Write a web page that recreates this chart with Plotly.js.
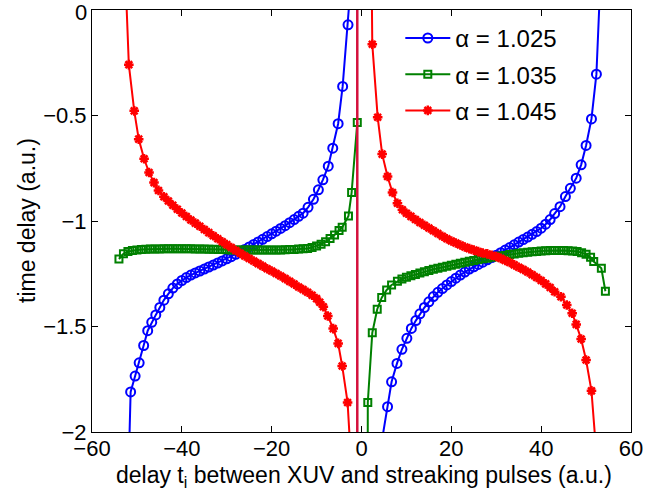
<!DOCTYPE html>
<html>
<head>
<meta charset="utf-8">
<script src="https://cdn.plot.ly/plotly-3.0.1.min.js"></script>
<style>html,body{margin:0;padding:0;background:#fff;}#chart{width:645px;height:494px;}</style>
</head>
<body>
<div id="chart"></div>
<script>
// ---- data ----
const seriesNames = ['α = 1.025', 'α = 1.035', 'α = 1.045'];

// alpha = 1.025 (blue, circles)
const delayA1025Left = [-52.0,-51.4,-50.4,-49.5,-48.5,-47.6,-46.7,-45.8,-44.9,-44,-43,-42,-41,-40,-39,-38,-37,-36,-35,-34,-33,-32,-31,-30,-29,-28,-27,-26,-25,-24,-23,-22,-21,-20,-19,-18,-17,-16,-15,-14,-13,-11.9,-10.7,-9.6,-8.6,-7.4,-6.4,-5.2,-4.2,-3.0,-2.4];
const timeA1025Left = [-2.3,-1.81,-1.735,-1.672,-1.59,-1.52,-1.48,-1.445,-1.41,-1.375,-1.345,-1.318,-1.298,-1.282,-1.268,-1.256,-1.246,-1.237,-1.228,-1.218,-1.209,-1.199,-1.189,-1.179,-1.169,-1.158,-1.147,-1.135,-1.123,-1.111,-1.099,-1.087,-1.074,-1.061,-1.048,-1.035,-1.022,-1.008,-0.993,-0.978,-0.963,-0.935,-0.897,-0.852,-0.805,-0.74,-0.655,-0.539,-0.362,-0.07,0.12];
const delayA1025Right = [4.4,5.8,6.7,7.9,9.0,10.1,11.1,12.1,13,14,15,16,17,18,19,20,21,22,23,24,25,26,27,28,29,30,31,32,33,34,35,36,37,38,39,40,41,42,43,44.2,45.4,46.5,47.8,48.9,50.0,51.2,52.3,53.0];
const timeA1025Right = [-2.06,-1.88,-1.762,-1.675,-1.608,-1.556,-1.509,-1.472,-1.44,-1.41,-1.383,-1.358,-1.338,-1.32,-1.303,-1.287,-1.271,-1.256,-1.242,-1.228,-1.217,-1.206,-1.195,-1.184,-1.173,-1.162,-1.15,-1.138,-1.126,-1.113,-1.1,-1.088,-1.076,-1.063,-1.05,-1.034,-1.015,-0.993,-0.965,-0.932,-0.884,-0.845,-0.797,-0.734,-0.642,-0.516,-0.304,0.05];

// alpha = 1.035 (green, squares)
const delayA1035Left = [-54,-53,-52,-51,-50,-49,-48,-47,-46,-45,-44,-43,-42,-41,-40,-39,-38,-37,-36,-35,-34,-33,-32,-31,-30,-29,-28,-27,-26,-25,-24,-23,-22,-21,-20,-19,-18,-17,-16,-15,-14,-13,-12,-11,-10,-9,-8,-7,-6,-5,-4.3,-2.9,-2.2,-0.94];
const timeA1035Left = [-1.18,-1.155,-1.145,-1.14,-1.137,-1.135,-1.134,-1.133,-1.133,-1.133,-1.132,-1.132,-1.132,-1.132,-1.132,-1.132,-1.132,-1.133,-1.133,-1.133,-1.134,-1.134,-1.135,-1.135,-1.136,-1.137,-1.137,-1.138,-1.138,-1.138,-1.138,-1.138,-1.138,-1.138,-1.138,-1.137,-1.137,-1.136,-1.135,-1.135,-1.133,-1.132,-1.13,-1.125,-1.118,-1.11,-1.098,-1.083,-1.066,-1.045,-1.03,-0.976,-0.865,-0.533];
const delayA1035Right = [1.35,1.4,2.4,3.5,4.5,5.6,6.7,8,9,10,11,12,13,14,15,16,17,18,19,20,21,22,23,24,25,26,27,28,29,30,31,32,33,34,35,36,37,38,39,40,41,42,43,44,45,46,47,48,49,50,51,51.7,53.4,54.3];
const timeA1035Right = [-3.0,-1.86,-1.53,-1.418,-1.363,-1.327,-1.303,-1.285,-1.275,-1.267,-1.26,-1.253,-1.247,-1.241,-1.235,-1.229,-1.224,-1.219,-1.214,-1.21,-1.205,-1.2,-1.196,-1.191,-1.187,-1.183,-1.179,-1.176,-1.172,-1.169,-1.166,-1.163,-1.159,-1.156,-1.153,-1.151,-1.148,-1.146,-1.144,-1.142,-1.141,-1.14,-1.14,-1.14,-1.14,-1.141,-1.142,-1.145,-1.15,-1.158,-1.172,-1.192,-1.224,-1.333];

// alpha = 1.045 (red, asterisks)
const delayA1045Left = [-53,-51.8,-50.6,-49.6,-48.4,-47.3,-46.2,-45.2,-44,-43,-42,-41,-40,-39,-38,-37,-36,-35,-34,-33,-32,-31,-30,-29,-28,-27,-26,-25,-24,-23,-22,-21,-20,-19,-18,-17,-16,-15,-14,-13,-12,-11,-10,-9.3,-8.5,-7.5,-6.3,-5.2,-4.3,-3.1,-2.3];
const timeA1045Left = [0.4,-0.259,-0.478,-0.612,-0.705,-0.77,-0.818,-0.855,-0.885,-0.905,-0.925,-0.944,-0.962,-0.979,-0.995,-1.01,-1.025,-1.04,-1.055,-1.07,-1.084,-1.098,-1.112,-1.126,-1.14,-1.153,-1.166,-1.178,-1.19,-1.202,-1.214,-1.226,-1.237,-1.249,-1.261,-1.273,-1.286,-1.299,-1.313,-1.325,-1.338,-1.352,-1.368,-1.385,-1.406,-1.45,-1.51,-1.58,-1.687,-1.86,-2.15];
const delayA1045Right = [1.8,2.4,3.6,4.6,5.8,6.9,8.0,9.1,10,11,12,13,14,15,16,17,18,19,20,21,22,23,24,25,26,27,28,29,30,31,32,33,34,35,36,37,38,39,40,41,42,43,44.4,45.7,46.9,47.8,48.9,50.0,51.2,53.0];
const timeA1045Right = [1.2,-0.162,-0.508,-0.683,-0.789,-0.865,-0.916,-0.947,-0.963,-0.978,-0.993,-1.007,-1.02,-1.033,-1.046,-1.059,-1.072,-1.084,-1.095,-1.104,-1.114,-1.123,-1.131,-1.138,-1.145,-1.152,-1.156,-1.162,-1.168,-1.177,-1.187,-1.197,-1.208,-1.219,-1.23,-1.242,-1.255,-1.268,-1.282,-1.298,-1.315,-1.335,-1.359,-1.398,-1.437,-1.49,-1.559,-1.659,-1.805,-2.3];

// vertical line at the pole
const poleDelay = [-0.94, -0.94];
const poleTime = [-2.2, 0.2];

const xTicks = [-60, -40, -20, 0, 20, 40, 60];
const yTicks = [-2, -1.5, -1, -0.5];   // the top tick "0" is written as an annotation below
const yTopTick = 0;
const xTitle = 'delay t<sub>i</sub> between XUV and streaking pulses (a.u.)';
const yTitle = 'time delay (a.u.)';

// ---- build traces ----
function join(a, b) { return a.concat([null], b); }
const FONT = 'Liberation Sans, Arial, Helvetica, sans-serif';

const traces = [
  {
    x: join(delayA1025Left, delayA1025Right), y: join(timeA1025Left, timeA1025Right),
    name: seriesNames[0], legendgroup: 'a', mode: 'lines+markers', connectgaps: false,
    line: {color: '#0000ff', width: 2},
    marker: {symbol: 'circle-open', size: 9, color: '#0000ff', line: {color: '#0000ff', width: 2}}
  },
  {
    x: join(delayA1035Left, delayA1035Right), y: join(timeA1035Left, timeA1035Right),
    name: seriesNames[1], legendgroup: 'b', mode: 'lines+markers', connectgaps: false,
    line: {color: '#008000', width: 2},
    marker: {symbol: 'square-open', size: 7, color: '#008000', line: {color: '#008000', width: 2}}
  },
  {
    x: join(delayA1045Left, delayA1045Right), y: join(timeA1045Left, timeA1045Right),
    name: seriesNames[2], legendgroup: 'c', mode: 'lines+markers', connectgaps: false,
    line: {color: '#ff0000', width: 2},
    marker: {symbol: 'asterisk-open', size: 8, color: '#ff0000', line: {color: '#ff0000', width: 2.5}}
  },
  {
    x: poleDelay, y: poleTime, mode: 'lines', showlegend: false, hoverinfo: 'skip',
    line: {color: '#d4103c', width: 2.5}
  }
];

const axisCommon = {
  showline: true, linecolor: '#000', linewidth: 1, mirror: 'ticks',
  ticks: 'inside', ticklen: 6, tickcolor: '#000', tickwidth: 1,
  showgrid: false, zeroline: false,
  tickfont: {family: FONT, size: 22, color: '#000'}
};

const M = {l: 92, r: 14, t: 10, b: 62};
const plotW = 645 - M.l - M.r, plotH = 494 - M.t - M.b;

const layout = {
  width: 645, height: 494,
  margin: M,
  paper_bgcolor: '#fff', plot_bgcolor: '#fff',
  font: {family: FONT, color: '#000'},
  showlegend: true,
  legend: {
    x: 0.572, xanchor: 'left', y: 0.986, yanchor: 'top',
    bgcolor: 'rgba(255,255,255,0)', borderwidth: 0,
    font: {family: FONT, size: 24, color: '#000'},
    tracegroupgap: 2, itemwidth: 45
  },
  xaxis: Object.assign({}, axisCommon, {range: [-60, 60], tickvals: xTicks, ticklabelstandoff: -3}),
  yaxis: Object.assign({}, axisCommon, {range: [-2, 0], tickvals: yTicks, ticklabelstandoff: 0}),
  annotations: [
    {text: String(yTopTick), xref: 'paper', yref: 'y', x: 0, y: yTopTick,
     xanchor: 'right', yanchor: 'middle', xshift: -3, yshift: -2, showarrow: false,
     font: {family: FONT, size: 22, color: '#000'}},
    {text: xTitle, xref: 'paper', yref: 'paper', x: 0.505, y: -28 / plotH,
     xanchor: 'center', yanchor: 'top', showarrow: false,
     font: {family: FONT, size: 23, color: '#000'}},
    {text: yTitle, xref: 'paper', yref: 'paper', x: -(M.l - 27) / plotW, y: 0.5,
     xanchor: 'center', yanchor: 'middle', textangle: -90, showarrow: false,
     font: {family: FONT, size: 23, color: '#000'}}
  ]
};

Plotly.newPlot('chart', traces, layout, {staticPlot: true, displayModeBar: false});
</script>
</body>
</html>
